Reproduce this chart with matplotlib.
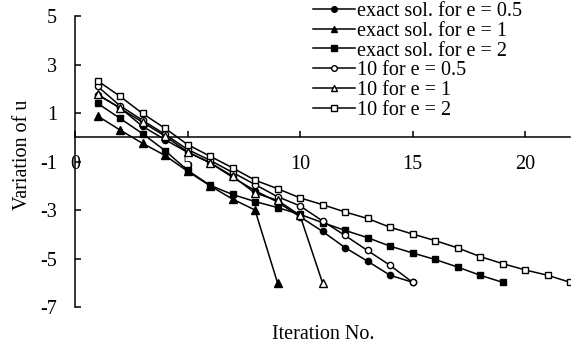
import matplotlib
matplotlib.use("Agg")
import matplotlib.pyplot as plt

plt.rcParams['font.family'] = ['Liberation Serif', 'DejaVu Serif']
plt.rcParams['axes.unicode_minus'] = False

# exact solutions
exact_e05 = [1.75, 1.22, 0.45, -0.1, -0.62, -1.05, -1.65, -2.2, -2.67, -3.28,
             -3.88, -4.55, -5.11, -5.69, -5.98]
exact_e1 = [0.88, 0.3, -0.25, -0.75, -1.4, -2.0, -2.55, -3.0, -6.0]
exact_e2 = [1.4, 0.78, 0.15, -0.55, -1.36, -1.98, -2.36, -2.65, -2.9, -3.18,
            -3.52, -3.84, -4.14, -4.49, -4.77, -5.04, -5.35, -5.69, -5.98]
# 10 iterations
ten_e05 = [2.1, 1.3, 0.7, 0.12, -0.5, -0.95, -1.45, -1.95, -2.45, -2.83,
           -3.45, -4.05, -4.67, -5.28, -5.98]
ten_e1 = [1.78, 1.2, 0.62, 0.05, -0.6, -1.05, -1.6, -2.3, -2.6, -3.22, -6.0]
ten_e2 = [2.33, 1.69, 0.98, 0.37, -0.3, -0.78, -1.26, -1.77, -2.12, -2.5,
          -2.78, -3.08, -3.35, -3.71, -3.99, -4.26, -4.56, -4.92, -5.21, -5.47,
          -5.69, -5.98]

series = [
    ("exact sol. for e = 0.5", exact_e05, "o", "k", 4.5),
    ("exact sol. for e = 1", exact_e1, "^", "k", 5.5),
    ("exact sol. for e = 2", exact_e2, "s", "k", 5),
    ("10 for e = 0.5", ten_e05, "o", "white", 4.5),
    ("10 for e = 1", ten_e1, "^", "white", 5.5),
    ("10 for e = 2", ten_e2, "s", "white", 5),
]

fig = plt.figure(figsize=(5.81, 3.5), dpi=100)
ax = fig.add_axes([75 / 581, 1 - 307 / 350, 495 / 581, 291 / 350])

for label, vals, mk, fc, ms in series:
    x = list(range(1, len(vals) + 1))
    ax.plot(x, vals, color="k", lw=1.1, marker=mk, markersize=ms,
            markerfacecolor=fc, markeredgecolor="k", markeredgewidth=1.0,
            label=label, zorder=3)

ax.set_xlim(0, 22)
ax.set_ylim(-7, 5)
ax.set_xticks([0, 5, 10, 15, 20])
ax.set_yticks([-7, -5, -3, -1, 1, 3, 5])

# axis crosses at y = 0, ticks pointing inward
ax.spines["top"].set_visible(False)
ax.spines["right"].set_visible(False)
ax.spines["bottom"].set_position(("data", 0))
for s in ("left", "bottom"):
    ax.spines[s].set_linewidth(1.1)
ax.tick_params(direction="in", length=4, width=1.1, labelsize=14.5, pad=13)

ax.set_ylabel("Variation of u", fontsize=14.5, va="center")
ax.yaxis.set_label_coords(-0.106, 0.522)
ax.set_xlabel("Iteration No.", fontsize=14.5, va="center")
ax.xaxis.set_label_coords(0.501, -0.096)

ax.legend(loc="upper left", bbox_to_anchor=(313 / 581, 1 - 2 / 350),
          bbox_transform=fig.transFigure, frameon=False, fontsize=14.5,
          handlelength=2.1, handletextpad=0.1, labelspacing=0.03,
          borderpad=0, borderaxespad=0, markerscale=0.9)

fig.savefig("out.png", dpi=100)
